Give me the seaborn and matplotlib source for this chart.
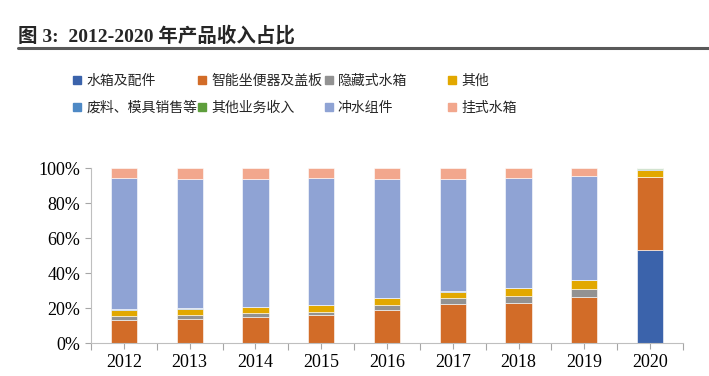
import numpy as np
import seaborn as sns
import matplotlib.pyplot as plt
from matplotlib.lines import Line2D
from matplotlib.ticker import FixedLocator

sns.set_theme(style="ticks")
plt.rcParams['font.family'] = ['Liberation Serif', 'Noto Sans CJK SC', 'DejaVu Sans']

# Data (share of revenue, %)
years = ["2012", "2013", "2014", "2015", "2016", "2017", "2018", "2019", "2020"]
series_names = ["水箱及配件", "智能坐便器及盖板", "隐藏式水箱", "其他",
                "废料、模具销售等", "其他业务收入", "冲水组件", "挂式水箱"]
tank_parts = [0, 0, 0, 0, 0, 0, 0, 0, 53.2]
smart_toilet = [13.3, 14.0, 15.2, 16.3, 19.2, 22.2, 23.0, 26.2, 42.1]
hidden_tank = [2.4, 2.0, 2.1, 1.7, 2.5, 3.5, 4.2, 4.8, 0]
other = [3.5, 3.6, 3.4, 3.7, 4.0, 3.6, 4.3, 5.1, 4.0]
scrap = [0.3, 0.3, 0.3, 0.3, 0.3, 0.3, 0.3, 0.3, 0.1]
other_business = [0, 0, 0, 0, 0, 0, 0, 0, 0.6]
flush_parts = [75.0, 73.8, 72.7, 72.3, 67.7, 64.3, 62.9, 59.2, 0]
wall_tank = [5.5, 6.3, 6.3, 5.7, 6.3, 6.1, 5.3, 4.4, 0]

series = [tank_parts, smart_toilet, hidden_tank, other,
          scrap, other_business, flush_parts, wall_tank]
colors = ["#3B63AB", "#D26C28", "#929292", "#E2A800",
          "#4E89C5", "#5E9E3C", "#8FA3D4", "#F2A78D"]

fig = plt.figure(figsize=(7.09, 3.76), dpi=100)
ax = fig.add_axes([0.1284, 0.087, 0.8349, 0.4654])

bottom = np.zeros(len(years))
for vals, c in zip(series, colors):
    sns.barplot(x=years, y=vals, bottom=bottom, color=c, saturation=1,
                width=0.4, edgecolor="white", linewidth=0.4, ax=ax)
    bottom += np.array(vals)

ax.set_xlim(-0.5, len(years) - 0.5)
ax.set_ylim(0, 100)
ax.set_yticks(range(0, 101, 20))
ax.set_yticklabels([f"{v}%" for v in range(0, 101, 20)])
ax.xaxis.set_minor_locator(FixedLocator(np.arange(-0.5, len(years), 1.0)))
ax.tick_params(axis="both", which="both", colors="#A6A6A6", labelcolor="black",
               labelsize=13, length=4, width=0.8)
ax.tick_params(axis="x", which="minor", length=5)
sns.despine(ax=ax)
for side in ["left", "bottom"]:
    ax.spines[side].set_color("#BFBFBF")
    ax.spines[side].set_linewidth(0.8)
ax.set_xlabel("")
ax.set_ylabel("")

# Legend: 4 columns, 2 rows, evenly spaced like the source
col_x = [0.103, 0.279, 0.458, 0.632]
for i, x0 in enumerate(col_x):
    idx = [i, i + 4]
    handles = [Line2D([], [], marker="s", linestyle="none", markersize=6,
                      markerfacecolor=colors[k], markeredgecolor=colors[k]) for k in idx]
    fig.legend(handles, [series_names[k] for k in idx], loc="upper left",
               bbox_to_anchor=(x0, 0.804), frameon=False,
               handlelength=0.6, handletextpad=0.35, labelspacing=0.95,
               borderpad=0, borderaxespad=0,
               prop={"family": ["Noto Sans CJK SC"], "size": 10})

# Title and rule
fig.text(0.026, 0.905, "图 3:  2012-2020 年产品收入占比", fontsize=14, fontweight="bold",
         va="center", ha="left")
fig.add_artist(Line2D([0.025, 1.0], [0.873, 0.873], transform=fig.transFigure,
                      color="#595959", linewidth=2.2))

fig.savefig("out.png", dpi=100)
